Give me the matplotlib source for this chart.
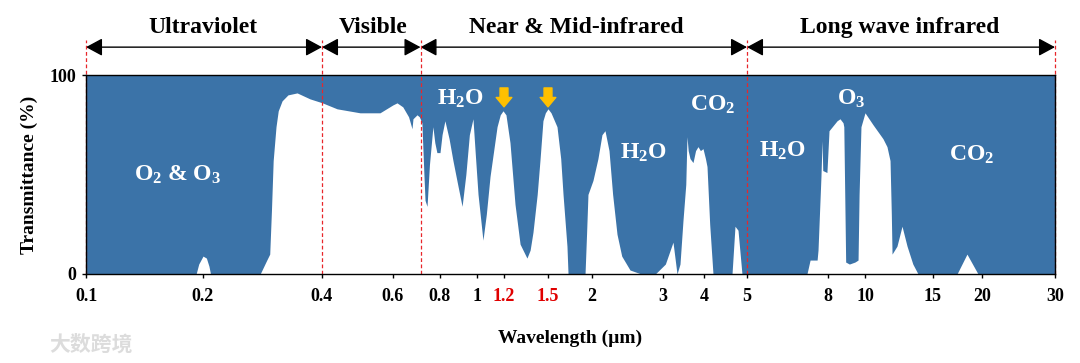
import matplotlib
matplotlib.use("Agg")
import matplotlib.pyplot as plt
import numpy as np

plt.rcParams["font.family"] = ["Liberation Serif", "DejaVu Serif"]
plt.rcParams["font.weight"] = "bold"
plt.rcParams["mathtext.fontset"] = "custom"
plt.rcParams["mathtext.rm"] = "Liberation Serif:bold"
plt.rcParams["mathtext.it"] = "Liberation Serif:bold:italic"
plt.rcParams["mathtext.bf"] = "Liberation Serif:bold"
plt.rcParams["mathtext.default"] = "rm"

BLUE = "#3B73A8"
GOLD = "#FFC000"

# atmospheric transmittance
wavelength = [
    0.100, 0.192, 0.195, 0.200, 0.204, 0.207, 0.209, 0.279, 0.290, 0.295,
    0.298, 0.301, 0.306, 0.310, 0.317, 0.328, 0.346, 0.373, 0.401, 0.436,
    0.497, 0.557, 0.600, 0.615, 0.637, 0.660, 0.674, 0.678, 0.695, 0.705,
    0.716, 0.725, 0.730, 0.739, 0.750, 0.766, 0.775, 0.785, 0.800, 0.810,
    0.824, 0.845, 0.865, 0.890, 0.914, 0.935, 0.955, 0.976, 0.990, 1.007,
    1.041, 1.065, 1.092, 1.145, 1.170, 1.192, 1.212, 1.237, 1.269, 1.302,
    1.348, 1.370, 1.390, 1.420, 1.440, 1.462, 1.480, 1.500, 1.530, 1.591,
    1.630, 1.655, 1.698, 1.710, 1.911, 1.930, 1.948, 2.011, 2.069, 2.117,
    2.154, 2.204, 2.250, 2.307, 2.370, 2.485, 2.650, 2.870, 3.050, 3.218,
    3.310, 3.380, 3.452, 3.520, 3.550, 3.580, 3.626, 3.703, 3.770, 3.835,
    3.900, 3.972, 4.030, 4.063, 4.120, 4.191, 4.626, 4.698, 4.772, 4.871,
    7.080, 7.210, 7.510, 7.550, 7.680, 7.730, 7.760, 7.950, 8.050, 8.450,
    8.600, 8.760, 8.800, 8.900, 9.100, 9.410, 9.590, 9.650, 9.760, 10.00,
    10.49, 11.13, 11.40, 11.61, 11.70, 11.75, 12.10, 12.47, 12.85, 13.30,
    13.72, 17.27, 18.31, 19.54, 30.00,
]
transmittance = [
    0, 0, 5, 9, 8, 4, 0, 0, 7, 10,
    32, 57, 74, 82, 87, 90, 91, 88, 86, 83,
    81, 81, 85, 86, 84, 79, 73, 78, 80, 79,
    76, 50, 37, 34, 55, 74, 66, 61, 61, 70,
    77, 68, 57, 45, 34, 50, 70, 78, 60, 40,
    17, 30, 49, 74, 80, 82, 80, 66, 35, 15,
    8, 12, 21, 40, 57, 77, 81, 83, 81, 74,
    58, 40, 14, 0, 0, 20, 40, 47, 58, 70,
    72, 62, 40, 20, 9, 2, 0, 0, 5, 16,
    0, 5, 27, 45, 69, 62, 58, 56, 62, 64,
    62, 63, 58, 54, 25, 0, 0, 24, 22, 0,
    0, 7, 7, 12, 49, 67, 52, 51, 72, 77,
    78, 76, 74, 6, 5, 6, 7, 40, 74, 81,
    75, 68, 64, 57, 30, 10, 14, 24, 14, 5,
    0, 0, 10, 0, 0,
]

tick_values = [0.1, 0.2, 0.4, 0.6, 0.8, 1, 1.2, 1.5, 2, 3, 4, 5, 8, 10, 15, 20, 30]
tick_labels = ["0.1", "0.2", "0.4", "0.6", "0.8", "1", "1.2", "1.5", "2", "3",
               "4", "5", "8", "10", "15", "20", "30"]
highlight_ticks = ["1.2", "1.5"]

bands = ["Ultraviolet", "Visible", "Near & Mid-infrared", "Long wave infrared"]
band_edges = [0.1, 0.4, 0.71, 5, 30]
band_label_x = [0.2, 0.535, 1.8, 12.3]

# the original axis is only roughly logarithmic: stretch it piecewise
_tick_px = np.array([86, 203, 322, 393, 440, 477, 504, 548, 592, 663, 704,
                     747, 828, 865, 933, 982, 1055], dtype=float)
_tick_log = np.log10(tick_values)


def _fwd(x):
    x = np.asarray(x, dtype=float)
    return np.interp(np.log10(np.maximum(x, 1e-6)), _tick_log, _tick_px)


def _inv(p):
    return 10 ** np.interp(np.asarray(p, dtype=float), _tick_px, _tick_log)


fig = plt.figure(figsize=(10.8, 3.63), dpi=100)
ax = fig.add_axes([86 / 1080, 89 / 363, 969 / 1080, 199 / 363])
ax.set_xscale("function", functions=(_fwd, _inv))
ax.set_xlim(0.1, 30)
ax.set_ylim(0, 100)
ax.set_facecolor(BLUE)
ax.fill_between(wavelength, 0, transmittance, color="white", lw=0, zorder=1)

ax.set_xticks(tick_values)
ax.set_xticklabels(tick_labels)
ax.minorticks_off()
for lbl in ax.get_xticklabels():
    if lbl.get_text() in highlight_ticks:
        lbl.set_color("#E00000")
ax.set_yticks([0, 100])
ax.tick_params(axis="both", labelsize=13, length=3, width=1, direction="out")
ax.tick_params(axis="x", pad=7)
ax.tick_params(axis="y", pad=4)
for s in ax.spines.values():
    s.set_linewidth(1)
    s.set_zorder(5)

ax.set_xlabel("Wavelength (µm)", fontsize=14, fontweight="bold", labelpad=18)
ax.set_ylabel("Transmittance (%)", fontsize=14, fontweight="bold", labelpad=8)

# band boundaries and header arrows
xt = ax.get_xaxis_transform()
for e in band_edges:
    ax.plot([e, e], [0, 1.175], transform=xt, color="#E8262A", lw=0.9,
            ls=(0, (3, 2)), clip_on=False, zorder=4)
for name, x0, x1, xl in zip(bands, band_edges[:-1], band_edges[1:], band_label_x):
    ax.annotate("", xy=(x1, 1.14), xytext=(x0, 1.14), xycoords=xt,
                textcoords=xt, annotation_clip=False,
                arrowprops=dict(arrowstyle="<|-|>,head_length=0.5,head_width=0.27",
                                color="black", lw=1, shrinkA=0, shrinkB=0,
                                mutation_scale=20))
    ax.text(xl, 1.24, name, transform=xt, ha="center", va="center",
            fontsize=17, fontweight="bold")

# absorber labels
txt = dict(color="white", fontsize=17, fontweight="bold", ha="center", va="center")
ax.text(0.172, 50, r"O$_2$ & O$_3$", **txt)
ax.text(0.902, 88, r"H$_2$O", **txt)
ax.text(4.19, 85, r"CO$_2$", **txt)
ax.text(2.68, 61, r"H$_2$O", **txt)
ax.text(6.13, 62, r"H$_2$O", **txt)
ax.text(9.19, 88, r"O$_3$", **txt)
ax.text(18.86, 60, r"CO$_2$", **txt)

for xw in [1.2, 1.5]:
    ax.annotate("", xy=(xw, 84), xytext=(xw, 93.5),
                arrowprops=dict(arrowstyle="simple,head_length=0.45,head_width=0.75,tail_width=0.38",
                                color=GOLD, shrinkA=0, shrinkB=0, mutation_scale=15))

fig.text(0.046, 0.052, "大数跨境", family=["Noto Sans CJK SC"], fontsize=15,
         color="#DCDCDC", ha="left", va="center")

fig.savefig("out.png", dpi=100)
